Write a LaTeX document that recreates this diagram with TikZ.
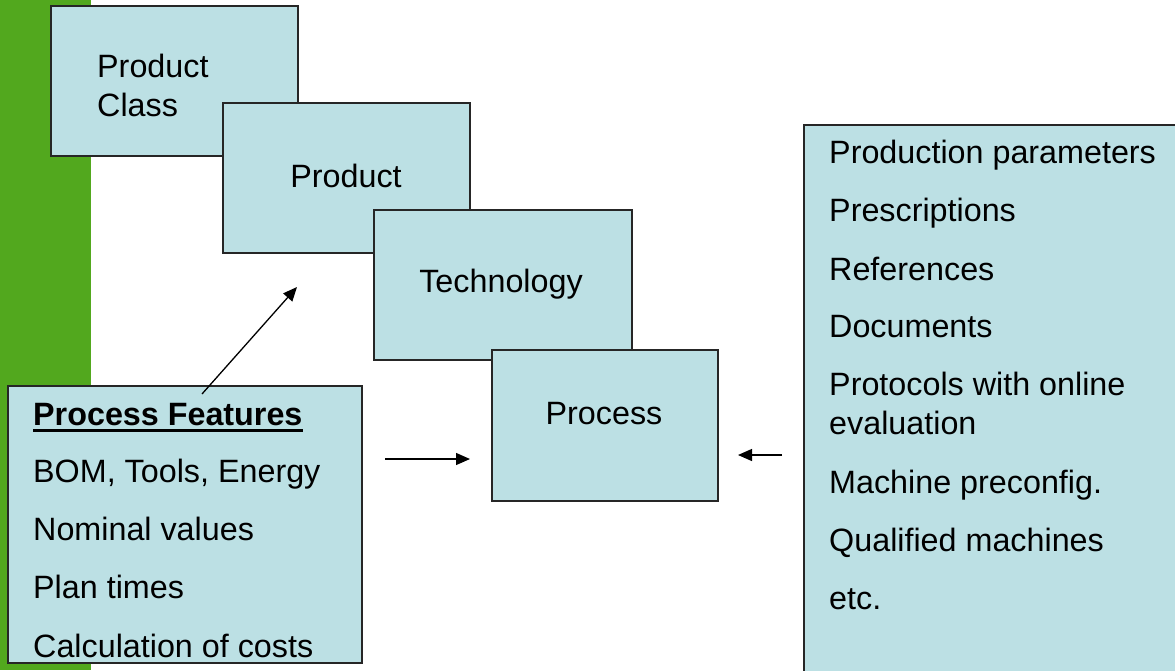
\documentclass[tikz,border=0pt]{standalone}
\usepackage{fontspec}
\setmainfont{Liberation Sans}
\usetikzlibrary{arrows.meta}
\definecolor{barg}{RGB}{82,168,30}
\definecolor{boxfill}{RGB}{188,224,228}
\begin{document}
\begin{tikzpicture}[x=1pt,y=-1pt,
  box/.style={draw=black!85, line width=1.3pt, fill=boxfill, anchor=north west, inner sep=0pt, outer sep=0pt},
  txt/.style={anchor=base west, inner sep=0pt, font=\fontsize{32.3}{39}\selectfont},
  ctxt/.style={anchor=base, inner sep=0pt, font=\fontsize{32.3}{39}\selectfont},
  arr/.style={-{Triangle[length=14pt,width=12pt]}, line width=1.3pt}]
\useasboundingbox (0,0) rectangle (1175,670);
\clip (0,0) rectangle (1175,670);
\fill[barg] (0,0) rectangle (91,670);
% stacked boxes
\node[box, minimum width=247pt, minimum height=150pt] (pcbox) at (51,6) {};
\node[txt] (pc1) at (97,77) {Product};
\node[txt] (pc2) at (97,116) {Class};
\node[box, minimum width=247pt, minimum height=150pt] (prbox) at (223,103) {};
\node[ctxt] (pr) at (346,187) {Product};
\node[box, minimum width=258pt, minimum height=150pt] (tebox) at (374,210) {};
\node[ctxt] (te) at (501,292) {Technology};
\node[box, minimum width=226pt, minimum height=151pt] (psbox) at (492,350) {};
\node[ctxt] (ps) at (604,424) {Process};
% process features
\node[box, minimum width=354pt, minimum height=277pt] (pfbox) at (8,386) {};
\node[txt, font=\fontsize{32.3}{39}\selectfont\bfseries] (pf) at (33,425) {Process Features};
\draw[line width=2.5pt] ([yshift=-5.5pt]pf.base west) -- ([yshift=-5.5pt]pf.base east);
\node[txt] (pf1) at (33,482) {BOM, Tools, Energy};
\node[txt] (pf2) at (33,540) {Nominal values};
\node[txt] (pf3) at (33,598) {Plan times};
\node[txt] (pf4) at (33,657) {Calculation of costs};
% right box
\node[box, minimum width=400pt, minimum height=600pt] (rbox) at (804,125) {};
\node[txt] (r1) at (829,163) {Production parameters};
\node[txt] (r2) at (829,221) {Prescriptions};
\node[txt] (r3) at (829,280) {References};
\node[txt] (r4) at (829,337) {Documents};
\node[txt] (r5) at (829,395) {Protocols with online};
\node[txt] (r6) at (829,434) {evaluation};
\node[txt] (r7) at (829,493) {Machine preconfig.};
\node[txt] (r8) at (829,551) {Qualified machines};
\node[txt] (r9) at (829,609) {etc.};
% arrows
\coordinate (a1s) at (202,394);
\coordinate (a1e) at (297,287);
\coordinate (a2s) at (385,459);
\coordinate (a2e) at (470,459);
\coordinate (a3s) at (782,455);
\coordinate (a3e) at (738,455);
\draw[arr] (a1s) -- (a1e);
\draw[arr] (a2s) -- (a2e);
\draw[arr] (a3s) -- (a3e);
\end{tikzpicture}
\end{document}
